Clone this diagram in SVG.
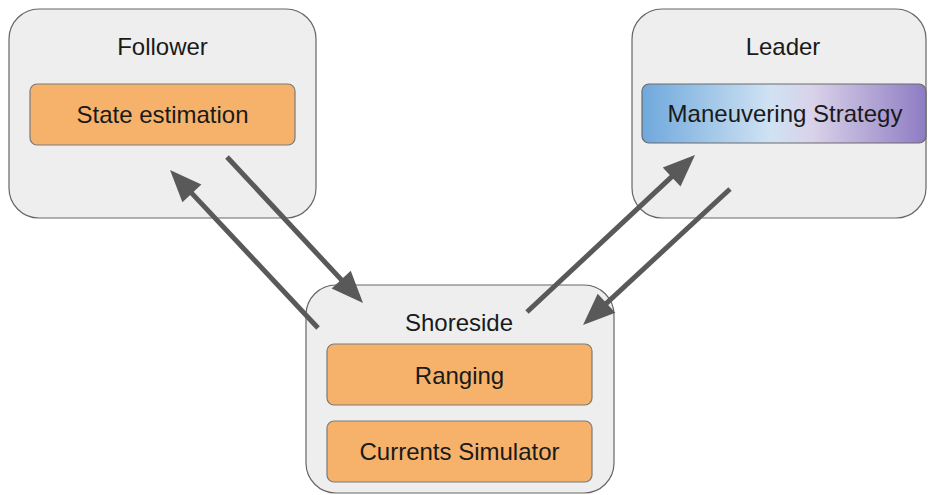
<svg xmlns="http://www.w3.org/2000/svg" width="928" height="495" viewBox="0 0 928 495">
  <style>
    .outer { fill: #eeeeee; stroke: #666666; stroke-width: 1.2; }
    .module { fill: #f6b26b; stroke: #7a7a7a; stroke-width: 1.2; }
    .title { font-family: "Liberation Sans", Arial, sans-serif; font-size: 24px; fill: #1a1a1a; text-anchor: middle; dominant-baseline: central; }
    .link { stroke: #595959; stroke-width: 5; fill: none; marker-end: url(#head); }
  </style>
  <defs>
    <marker id="head" markerUnits="userSpaceOnUse" markerWidth="32" markerHeight="26" refX="12" refY="13" orient="auto" overflow="visible">
      <path d="M0,0 L32,13 L0,26 Z" fill="#595959"/>
    </marker>
    <linearGradient id="strategyFill" x1="0" y1="0" x2="1" y2="0">
      <stop offset="0" stop-color="#6fa8dc"/>
      <stop offset="0.45" stop-color="#cfe2f3"/>
      <stop offset="0.6" stop-color="#d9d2e9"/>
      <stop offset="1" stop-color="#8e7cc3"/>
    </linearGradient>
  </defs>

  <g id="follower">
    <rect class="outer" x="9" y="9" width="307" height="209" rx="30"/>
    <text class="title" x="162.5" y="46">Follower</text>
    <g id="state-estimation">
      <rect class="module" x="30" y="84" width="265" height="61" rx="7"/>
      <text class="title" x="162.5" y="114">State estimation</text>
    </g>
  </g>

  <g id="leader">
    <rect class="outer" x="632" y="9" width="294" height="209" rx="30"/>
    <text class="title" x="783" y="46">Leader</text>
    <g id="maneuvering-strategy">
      <rect x="642" y="84" width="284" height="59" rx="7" fill="url(#strategyFill)" stroke="#6a6a6a" stroke-width="1.2"/>
      <text class="title" x="785" y="113.5">Maneuvering Strategy</text>
    </g>
  </g>

  <g id="shoreside">
    <rect class="outer" x="306" y="285" width="308" height="208" rx="30"/>
    <text class="title" x="459" y="322">Shoreside</text>
    <g id="ranging">
      <rect class="module" x="327" y="344" width="265" height="61" rx="7"/>
      <text class="title" x="459.5" y="375">Ranging</text>
    </g>
    <g id="currents-simulator">
      <rect class="module" x="327" y="421" width="265" height="61" rx="7"/>
      <text class="title" x="459.5" y="451">Currents Simulator</text>
    </g>
  </g>

  <g id="connectors">
    <line class="link" x1="318" y1="328" x2="183.7" y2="184.6"/>
    <line class="link" x1="227" y1="157" x2="349.4" y2="288.4"/>
    <line class="link" x1="527" y1="312" x2="680.4" y2="168.7"/>
    <line class="link" x1="730" y1="189" x2="597.7" y2="311.4"/>
  </g>
</svg>
